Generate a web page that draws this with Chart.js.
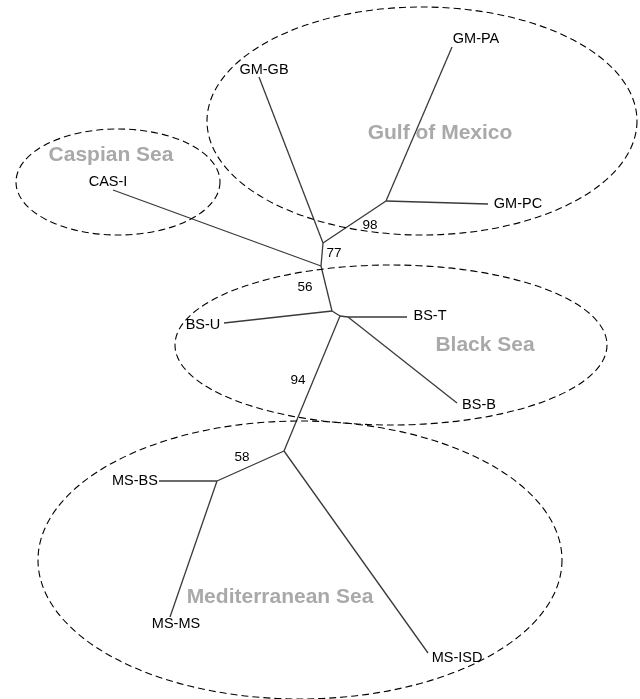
<!DOCTYPE html>
<html>
<head>
<meta charset="utf-8">
<title>Unrooted tree</title>
<script src="https://cdn.jsdelivr.net/npm/chart.js@4.4.0/dist/chart.umd.min.js"></script>
<style>
  html, body { margin: 0; padding: 0; background: #fff; }
  #wrap { width: 640px; height: 699px; position: relative; }
</style>
</head>
<body>
<div id="wrap"><canvas id="treeChart"></canvas></div>
<script>
// Tree nodes (tips first, then internal nodes)
const nodeNames = ['GM-PA', 'GM-PC', 'GM-GB', 'CAS-I', 'BS-U', 'BS-T', 'BS-B', 'MS-BS', 'MS-MS', 'MS-ISD',
                   'n98', 'n77', 'n56', 'nBS1', 'nBS2', 'nBS3', 'n94', 'n58'];
const nodeX = [452, 488, 259, 113, 224, 407, 457, 159, 170, 428, 386, 323, 321, 332, 340, 348, 284, 217];
const nodeY = [47, 204, 77, 190, 323, 317, 403, 481, 617, 653, 201, 243, 266, 311, 316, 317, 451, 481];

// Branches
const edgeFrom = [10, 10, 10, 11, 11, 12, 12, 13, 13, 14, 15, 15, 14, 16, 16, 17, 17];
const edgeTo   = [0, 1, 11, 2, 12, 3, 13, 4, 14, 15, 5, 6, 16, 17, 9, 7, 8];

// Tip labels
const tipCount = 10;
const tipLabelX = [476, 518, 264, 108, 203, 430, 479, 135, 176, 457];
const tipLabelY = [39, 204, 70, 182, 325, 316, 405, 481, 624, 658];

// Bootstrap values
const bootValues = [98, 77, 56, 94, 58];
const bootX = [370, 334, 305, 298, 242];
const bootY = [225, 253, 287, 380, 457];

// Regions
const regionNames = ['Caspian Sea', 'Gulf of Mexico', 'Black Sea', 'Mediterranean Sea'];
const regionLabelX = [111, 440, 485, 280];
const regionLabelY = [155, 133, 345, 597];
const regionCx = [118, 422, 391, 300];
const regionCy = [182, 121, 345, 560];
const regionRx = [102, 215, 216, 262];
const regionRy = [53, 114, 80, 139];

const edgeSets = edgeFrom.map((f, i) => ({
    data: [
        { x: nodeX[f], y: nodeY[f] },
        { x: nodeX[edgeTo[i]], y: nodeY[edgeTo[i]] },
    ],
    showLine: true,
    borderColor: '#3a3a3a',
    borderWidth: 1.3,
    pointRadius: 0,
}));

const overlay = {
    id: 'overlay',
    afterDatasetsDraw(chart) {
        const ctx = chart.ctx;
        const sx = chart.scales.x;
        const sy = chart.scales.y;
        ctx.save();

        // dashed region ellipses
        ctx.strokeStyle = '#000';
        ctx.lineWidth = 1.1;
        ctx.setLineDash([7, 4]);
        regionCx.forEach((cx, i) => {
            const px = sx.getPixelForValue(cx);
            const py = sy.getPixelForValue(regionCy[i]);
            const rx = Math.abs(sx.getPixelForValue(cx + regionRx[i]) - px);
            const ry = Math.abs(sy.getPixelForValue(regionCy[i] + regionRy[i]) - py);
            ctx.beginPath();
            ctx.ellipse(px, py, rx, ry, 0, 0, Math.PI * 2);
            ctx.stroke();
        });
        ctx.setLineDash([]);

        ctx.textAlign = 'center';
        ctx.textBaseline = 'middle';

        // region names
        ctx.fillStyle = '#a9a9a9';
        ctx.font = 'bold 21px "Liberation Sans", Arial, sans-serif';
        regionNames.forEach((name, i) => {
            ctx.fillText(name, sx.getPixelForValue(regionLabelX[i]), sy.getPixelForValue(regionLabelY[i]));
        });

        // tip names
        ctx.fillStyle = '#000';
        ctx.font = '14.5px "Liberation Sans", Arial, sans-serif';
        for (let i = 0; i < tipCount; i++) {
            ctx.fillText(nodeNames[i], sx.getPixelForValue(tipLabelX[i]), sy.getPixelForValue(tipLabelY[i]));
        }

        // bootstrap support
        ctx.font = '13.5px "Liberation Sans", Arial, sans-serif';
        bootValues.forEach((v, i) => {
            ctx.fillText(String(v), sx.getPixelForValue(bootX[i]), sy.getPixelForValue(bootY[i]));
        });

        ctx.restore();
    }
};

const treeChart = new Chart(document.getElementById('treeChart'), {
    type: 'scatter',
    data: { datasets: edgeSets },
    options: {
        responsive: true,
        maintainAspectRatio: false,
        animation: false,
        layout: { padding: 0 },
        plugins: {
            legend: { display: false },
            tooltip: { enabled: false },
        },
        scales: {
            x: { type: 'linear', min: 0, max: 640, display: false },
            y: { type: 'linear', min: 0, max: 699, reverse: true, display: false },
        },
    },
    plugins: [overlay],
});
</script>
</body>
</html>
